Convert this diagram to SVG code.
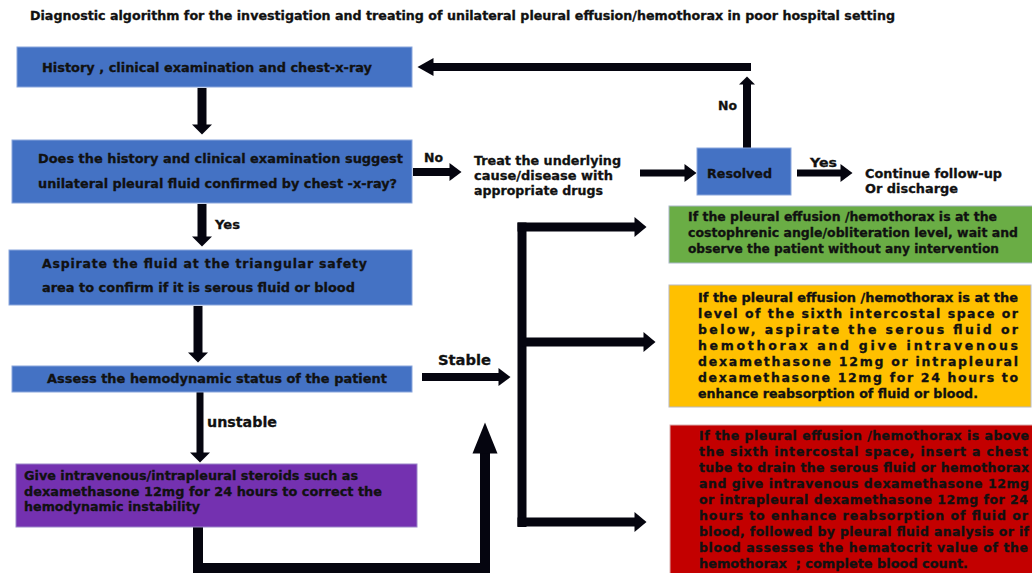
<svg xmlns="http://www.w3.org/2000/svg" width="1032" height="573" viewBox="0 0 1032 573">
<style>
text{font-family:"DejaVu Sans","Liberation Sans",sans-serif;font-weight:bold;fill:#111;stroke:#111;stroke-width:0.3px;}
.t{font-size:11.5px;}
.m{font-size:13px;}
.s{font-size:12.5px;}
.r{font-size:12.5px;}
.l{font-size:14px;}
.blue{fill:#4472c4;stroke:#8aa6dc;stroke-width:1;}
.con{stroke:#05050f;fill:none;stroke-linejoin:miter;}
</style>
<defs>
<marker id="mV" markerUnits="userSpaceOnUse" orient="auto" markerWidth="12" markerHeight="20" refX="0.5" refY="10" overflow="visible"><path d="M0,0 L10,10 L0,20 z" fill="#05050f"/></marker>
<marker id="mH" markerUnits="userSpaceOnUse" orient="auto" markerWidth="14" markerHeight="18" refX="0.5" refY="9" overflow="visible"><path d="M0,0 L12,9 L0,18 z" fill="#05050f"/></marker>
<marker id="mA" markerUnits="userSpaceOnUse" orient="auto" markerWidth="14" markerHeight="20" refX="0.5" refY="10" overflow="visible"><path d="M0,0 L12,10 L0,20 z" fill="#05050f"/></marker>
<marker id="mL" markerUnits="userSpaceOnUse" orient="auto" markerWidth="18" markerHeight="18" refX="0.5" refY="9" overflow="visible"><path d="M0,0 L16,9 L0,18 z" fill="#05050f"/></marker>
<marker id="mS" markerUnits="userSpaceOnUse" orient="auto" markerWidth="10" markerHeight="16" refX="0.5" refY="8" overflow="visible"><path d="M0,0 L8,8 L0,16 z" fill="#05050f"/></marker>
<marker id="mB" markerUnits="userSpaceOnUse" orient="auto" markerWidth="33" markerHeight="26" refX="0.5" refY="12.5" overflow="visible"><path d="M0,0 L31,12.5 L0,25 z" fill="#05050f"/></marker>
</defs>
<rect width="1032" height="573" fill="#ffffff"/>

<g id="title">
<text class="t" x="30" y="20" textLength="865" lengthAdjust="spacingAndGlyphs">Diagnostic algorithm for the investigation and treating of unilateral pleural effusion/hemothorax in poor hospital setting</text>
</g>

<g id="connectors">
<line class="con" x1="202" y1="88" x2="202" y2="125" stroke-width="9" marker-end="url(#mV)"/>
<line class="con" x1="413" y1="172" x2="450" y2="172" stroke-width="8" marker-end="url(#mH)"/>
<line class="con" x1="640" y1="173" x2="685" y2="173" stroke-width="7" marker-end="url(#mH)"/>
<line class="con" x1="797" y1="173" x2="841" y2="173" stroke-width="7" marker-end="url(#mH)"/>
<line class="con" x1="747" y1="148" x2="747" y2="84" stroke-width="8" marker-end="url(#mS)"/>
<line class="con" x1="751" y1="67" x2="433" y2="67" stroke-width="8" marker-end="url(#mL)"/>
<line class="con" x1="202" y1="204" x2="202" y2="237" stroke-width="9" marker-end="url(#mV)"/>
<line class="con" x1="198" y1="306" x2="198" y2="353" stroke-width="9" marker-end="url(#mV)"/>
<line class="con" x1="200" y1="392" x2="200" y2="453" stroke-width="7" marker-end="url(#mV)"/>
<line class="con" x1="422" y1="377" x2="499" y2="377" stroke-width="8" marker-end="url(#mH)"/>
<polyline class="con" points="198,527 198,568 485,568 485,453" stroke-width="10" marker-end="url(#mB)"/>
<line class="con" x1="522" y1="222.5" x2="522" y2="527" stroke-width="9"/>
<line class="con" x1="517.5" y1="227" x2="635" y2="227" stroke-width="9" marker-end="url(#mA)"/>
<line class="con" x1="522" y1="342" x2="644" y2="342" stroke-width="9" marker-end="url(#mA)"/>
<line class="con" x1="517.5" y1="522" x2="635" y2="522" stroke-width="9" marker-end="url(#mA)"/>
</g>

<g id="labels">
<text class="s" x="424" y="162" textLength="19" lengthAdjust="spacingAndGlyphs">No</text>
<text class="s" x="718" y="110" textLength="19" lengthAdjust="spacingAndGlyphs">No</text>
<text class="s" x="810" y="167" textLength="27" lengthAdjust="spacingAndGlyphs">Yes</text>
<text class="s" x="215" y="229" textLength="25" lengthAdjust="spacingAndGlyphs">Yes</text>
<text class="l" x="438" y="365" textLength="53" lengthAdjust="spacingAndGlyphs">Stable</text>
<text class="l" x="207" y="427" textLength="70" lengthAdjust="spacingAndGlyphs">unstable</text>
</g>

<g id="history">
<rect class="blue" x="17" y="47" width="395" height="40"/>
<text class="m" x="42" y="72" textLength="330" lengthAdjust="spacingAndGlyphs">History , clinical examination and chest-x-ray</text>
</g>

<g id="question">
<rect class="blue" x="12" y="140" width="400" height="63"/>
<text class="m" x="38" y="163" textLength="365" lengthAdjust="spacingAndGlyphs">Does the history and clinical examination suggest</text>
<text class="m" x="38" y="188" textLength="359" lengthAdjust="spacingAndGlyphs">unilateral pleural fluid confirmed by chest -x-ray?</text>
</g>

<g id="treat">
<text class="m" x="474" y="165" textLength="147" lengthAdjust="spacingAndGlyphs">Treat the underlying</text>
<text class="m" x="474" y="180" textLength="139" lengthAdjust="spacingAndGlyphs">cause/disease with</text>
<text class="m" x="474" y="195" textLength="129" lengthAdjust="spacingAndGlyphs">appropriate drugs</text>
</g>

<g id="resolved">
<rect class="blue" x="697" y="148" width="94" height="47"/>
<text class="m" x="707" y="178" textLength="65" lengthAdjust="spacingAndGlyphs">Resolved</text>
</g>

<g id="continue">
<text class="m" x="865" y="178" textLength="137" lengthAdjust="spacingAndGlyphs">Continue follow-up</text>
<text class="m" x="865" y="193" textLength="93" lengthAdjust="spacingAndGlyphs">Or discharge</text>
</g>

<g id="aspirate">
<rect class="blue" x="9" y="250" width="403" height="55"/>
<text class="s" x="42" y="268" textLength="325" lengthAdjust="spacing">Aspirate the fluid at the triangular safety</text>
<text class="s" x="42" y="292" textLength="313" lengthAdjust="spacingAndGlyphs">area to confirm if it is serous fluid or blood</text>
</g>

<g id="assess">
<rect class="blue" x="12" y="366" width="400" height="26"/>
<text class="s" x="47" y="383" textLength="340" lengthAdjust="spacingAndGlyphs">Assess the hemodynamic status of the patient</text>
</g>

<g id="steroids">
<rect x="16" y="464" width="401" height="63" fill="#7431b0" stroke="#9a86c8" stroke-width="1"/>
<text class="s" x="24" y="480" textLength="334" lengthAdjust="spacingAndGlyphs">Give intravenous/intrapleural steroids such as</text>
<text class="s" x="24" y="496" textLength="358" lengthAdjust="spacingAndGlyphs">dexamethasone 12mg for 24 hours to correct the</text>
<text class="s" x="24" y="511" textLength="176" lengthAdjust="spacingAndGlyphs">hemodynamic instability</text>
</g>

<g id="green">
<rect x="669" y="206" width="370" height="57" fill="#6aad45" stroke="#a9b8c8" stroke-width="1"/>
<text class="r" x="688" y="221" textLength="309" lengthAdjust="spacingAndGlyphs">If the pleural effusion /hemothorax is at the</text>
<text class="r" x="688" y="237" textLength="330" lengthAdjust="spacingAndGlyphs">costophrenic angle/obliteration level, wait and</text>
<text class="r" x="688" y="253" textLength="311" lengthAdjust="spacingAndGlyphs">observe the patient without any intervention</text>
</g>

<g id="orange">
<rect x="669" y="285" width="362" height="122" fill="#ffc000" stroke="#b8b8c0" stroke-width="1"/>
<text class="r" x="698" y="302" textLength="320" lengthAdjust="spacingAndGlyphs">If the pleural effusion /hemothorax is at the</text>
<text class="r" x="698" y="318" textLength="320" lengthAdjust="spacing">level of the sixth intercostal space or</text>
<text class="r" x="698" y="334" textLength="320" lengthAdjust="spacing">below, aspirate the serous fluid or</text>
<text class="r" x="698" y="350" textLength="320" lengthAdjust="spacing">hemothorax and give intravenous</text>
<text class="r" x="698" y="366" textLength="320" lengthAdjust="spacing">dexamethasone 12mg or intrapleural</text>
<text class="r" x="698" y="382" textLength="320" lengthAdjust="spacing">dexamethasone 12mg for 24 hours to</text>
<text class="r" x="698" y="398" textLength="280" lengthAdjust="spacingAndGlyphs">enhance reabsorption of fluid or blood.</text>
</g>

<g id="red">
<rect x="670" y="425" width="370" height="160" fill="#c30000" stroke="#d9b0b0" stroke-width="1"/>
<text class="r" x="699" y="440" textLength="330" lengthAdjust="spacing">If the pleural effusion /hemothorax is above</text>
<text class="r" x="699" y="456" textLength="329" lengthAdjust="spacing">the sixth intercostal space, insert a chest</text>
<text class="r" x="699" y="472" textLength="330" lengthAdjust="spacing">tube to drain the serous fluid or hemothorax</text>
<text class="r" x="699" y="488" textLength="330" lengthAdjust="spacing">and give intravenous dexamethasone 12mg</text>
<text class="r" x="699" y="504" textLength="329" lengthAdjust="spacing">or intrapleural dexamethasone 12mg for 24</text>
<text class="r" x="699" y="520" textLength="329" lengthAdjust="spacing">hours to enhance reabsorption of fluid or</text>
<text class="r" x="699" y="536" textLength="330" lengthAdjust="spacing">blood, followed by pleural fluid analysis or if</text>
<text class="r" x="699" y="552" textLength="329" lengthAdjust="spacing">blood assesses the hematocrit value of the</text>
<text class="r" x="699" y="568" textLength="269" lengthAdjust="spacingAndGlyphs">hemothorax &#160;; complete blood count.</text>
</g>
</svg>
